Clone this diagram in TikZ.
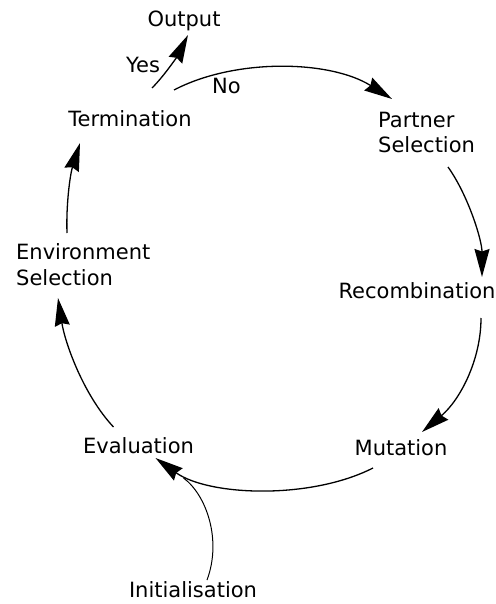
\documentclass[tikz,border=0pt]{standalone}
\usepackage{fontspec}
\setmainfont{DejaVu Sans}
\usetikzlibrary{arrows.meta}
\begin{document}
\begin{tikzpicture}[x=1pt,y=-1pt,
  lbl/.style={inner sep=0pt,font=\fontsize{21}{25.5}\selectfont},
  flow/.style={line width=1.3pt,-{Stealth[length=28pt,width=15pt,inset=2.5pt]}},
  feed/.style={line width=1pt}]
\useasboundingbox (0,0) rectangle (495,604);

% stage labels (anchored on their baselines; two-line labels on the last line)
\node[lbl,anchor=base] (out) at (184,27) {Output};
\node[lbl,anchor=base] (yes) at (143,73) {Yes};
\node[lbl,anchor=base] (no) at (226.5,94) {No};
\node[lbl,anchor=base] (term) at (130,127) {Termination};
\node[lbl,anchor=base west,align=left] (partner) at (378,153) {Partner\\Selection};
\node[lbl,anchor=base] (recomb) at (417,298) {Recombination};
\node[lbl,anchor=base] (mut) at (401,455) {Mutation};
\node[lbl,anchor=base] (eval) at (138.5,453) {Evaluation};
\node[lbl,anchor=base] (init) at (193,597) {Initialisation};
\node[lbl,anchor=base west,align=left] (env) at (16,285) {Environment\\Selection};

% main cycle
\draw[flow] ([shift={(44,-37)}]term.base)
  .. controls +(61,-32) and +(-62,-39) .. ([shift={(14,-54)}]partner.base west);
\draw[flow] ([shift={(70,14)}]partner.base west)
  .. controls +(20,28) and +(0,-37) .. ([shift={(65,-21)}]recomb.base);
\draw[flow] ([shift={(64,20)}]recomb.base)
  .. controls +(0,42) and +(38,-32) .. ([shift={(21,-23)}]mut.base);
\draw[flow] ([shift={(-28,13)}]mut.base)
  .. controls +(-63,32) and +(53,38) .. ([shift={(17,5)}]eval.base);
\draw[flow] ([shift={(-25,-26)}]eval.base)
  .. controls +(-30,-32) and +(7,45) .. ([shift={(42,13)}]env.base west);
\draw[flow] ([shift={(51,-52)}]env.base west)
  .. controls +(-1,-28) and +(-10,32) .. ([shift={(-50,16)}]term.base);

% exit branch
\draw[flow] ([shift={(9,15)}]yes.base)
  .. controls +(13,-13) and +(-10,20) .. ([shift={(4,8)}]out.base);

% entry into the cycle
\draw[feed] ([shift={(14,-17)}]init.base)
  .. controls +(15,-40) and +(23,17) .. ([shift={(45,25)}]eval.base);
\end{tikzpicture}
\end{document}
